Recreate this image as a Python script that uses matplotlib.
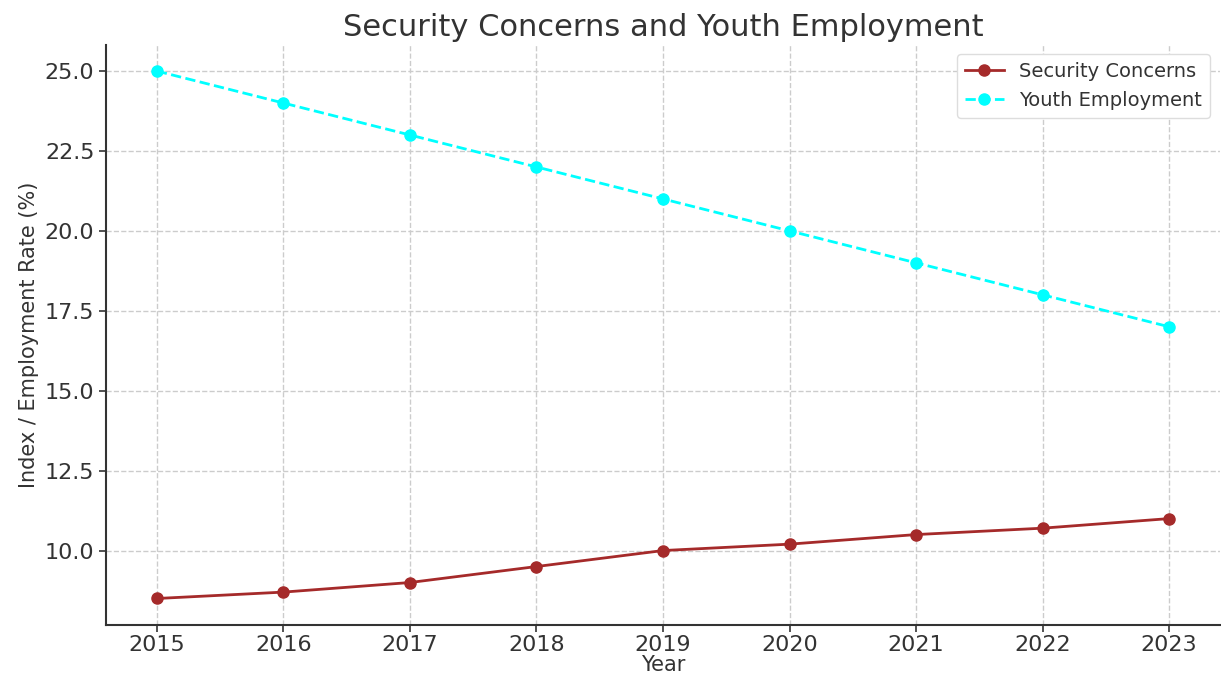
import matplotlib
matplotlib.use("Agg")
import matplotlib.pyplot as plt

years = [2015, 2016, 2017, 2018, 2019, 2020, 2021, 2022, 2023]
security_concerns = [8.5, 8.7, 9.0, 9.5, 10.0, 10.2, 10.5, 10.7, 11.0]
youth_employment = [25.0, 24.0, 23.0, 22.0, 21.0, 20.0, 19.0, 18.0, 17.0]

text_color = '#333333'
plt.rcParams['font.family'] = 'DejaVu Sans'
plt.rcParams['text.color'] = text_color
plt.rcParams['axes.labelcolor'] = text_color
plt.rcParams['xtick.color'] = text_color
plt.rcParams['ytick.color'] = text_color

fig, ax = plt.subplots(figsize=(12.21, 6.77), dpi=100)
fig.subplots_adjust(left=0.087, right=0.999, top=0.934, bottom=0.077)

ax.plot(years, security_concerns, color='#a52a2a', marker='o', markersize=8,
        linewidth=2, label='Security Concerns')
ax.plot(years, youth_employment, color='cyan', marker='o', markersize=8,
        linewidth=2, linestyle='--', label='Youth Employment')

ax.set_title('Security Concerns and Youth Employment', fontsize=22)
ax.set_xlabel('Year', fontsize=15, labelpad=0)
ax.set_ylabel('Index / Employment Rate (%)', fontsize=15)
ax.set_xticks(years)
ax.tick_params(axis='both', labelsize=16, length=5, width=1.2, color=text_color)
ax.tick_params(axis='x', pad=2)
ax.grid(True, linestyle='--', color='#cccccc', linewidth=1)

for side in ['top', 'right']:
    ax.spines[side].set_visible(False)
for side in ['left', 'bottom']:
    ax.spines[side].set_color(text_color)
    ax.spines[side].set_linewidth(1.5)

leg = ax.legend(loc='upper right', fontsize=14, framealpha=1)
leg.get_frame().set_edgecolor('#dddddd')

plt.savefig('out.png', dpi=100)
